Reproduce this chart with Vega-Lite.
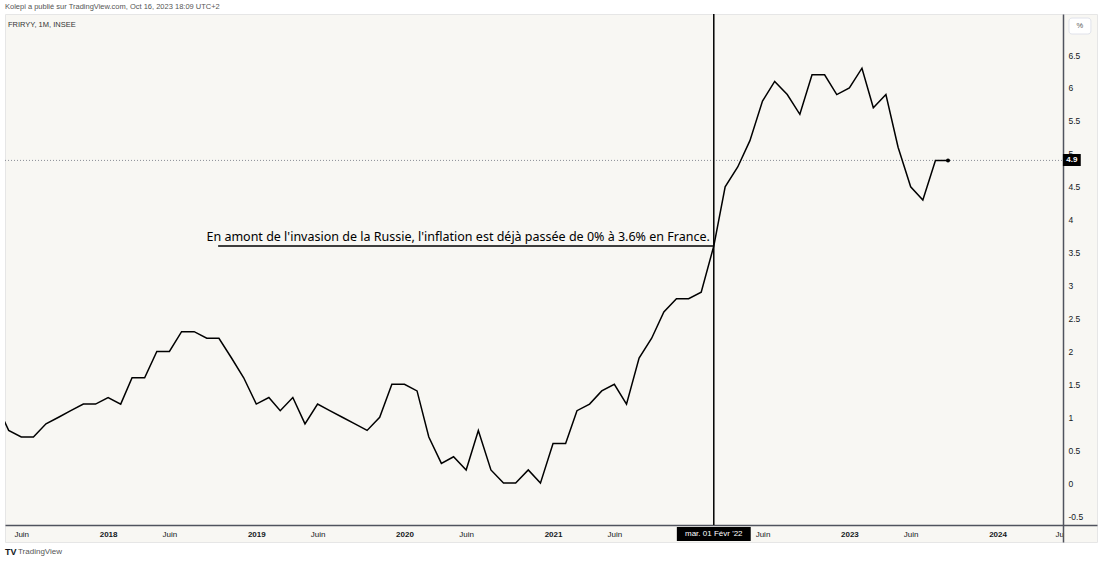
{
  "$schema": "https://vega.github.io/schema/vega-lite/v6.json",
  "width": 1092,
  "height": 528,
  "autosize": "none",
  "padding": {"left": 5, "top": 14, "right": 3, "bottom": 22},
  "background": "#ffffff",
  "layer": [
    {
      "data": {"values": [{}]},
      "mark": {"type": "rule", "color": "#8a8d96", "strokeWidth": 1, "strokeDash": [1, 2]},
      "encoding": {
        "x": {"datum": {"year": 2017, "month": 4, "date": 22, "utc": true}, "type": "temporal", "title": null},
        "x2": {"datum": {"year": 2024, "month": 6, "date": 10, "utc": true}},
        "y": {"datum": 4.9, "type": "quantitative", "title": null}
      }
    },
    {
      "data": {
        "values": [
          {"date": "2017-04-01", "cpi": 1.2}, {"date": "2017-05-01", "cpi": 0.8}, {"date": "2017-06-01", "cpi": 0.7},
          {"date": "2017-07-01", "cpi": 0.7}, {"date": "2017-08-01", "cpi": 0.9}, {"date": "2017-09-01", "cpi": 1.0},
          {"date": "2017-10-01", "cpi": 1.1}, {"date": "2017-11-01", "cpi": 1.2}, {"date": "2017-12-01", "cpi": 1.2},
          {"date": "2018-01-01", "cpi": 1.3}, {"date": "2018-02-01", "cpi": 1.2}, {"date": "2018-03-01", "cpi": 1.6},
          {"date": "2018-04-01", "cpi": 1.6}, {"date": "2018-05-01", "cpi": 2.0}, {"date": "2018-06-01", "cpi": 2.0},
          {"date": "2018-07-01", "cpi": 2.3}, {"date": "2018-08-01", "cpi": 2.3}, {"date": "2018-09-01", "cpi": 2.2},
          {"date": "2018-10-01", "cpi": 2.2}, {"date": "2018-11-01", "cpi": 1.9}, {"date": "2018-12-01", "cpi": 1.6},
          {"date": "2019-01-01", "cpi": 1.2}, {"date": "2019-02-01", "cpi": 1.3}, {"date": "2019-03-01", "cpi": 1.1},
          {"date": "2019-04-01", "cpi": 1.3}, {"date": "2019-05-01", "cpi": 0.9}, {"date": "2019-06-01", "cpi": 1.2},
          {"date": "2019-07-01", "cpi": 1.1}, {"date": "2019-08-01", "cpi": 1.0}, {"date": "2019-09-01", "cpi": 0.9},
          {"date": "2019-10-01", "cpi": 0.8}, {"date": "2019-11-01", "cpi": 1.0}, {"date": "2019-12-01", "cpi": 1.5},
          {"date": "2020-01-01", "cpi": 1.5}, {"date": "2020-02-01", "cpi": 1.4}, {"date": "2020-03-01", "cpi": 0.7},
          {"date": "2020-04-01", "cpi": 0.3}, {"date": "2020-05-01", "cpi": 0.4}, {"date": "2020-06-01", "cpi": 0.2},
          {"date": "2020-07-01", "cpi": 0.8}, {"date": "2020-08-01", "cpi": 0.2}, {"date": "2020-09-01", "cpi": 0.0},
          {"date": "2020-10-01", "cpi": 0.0}, {"date": "2020-11-01", "cpi": 0.2}, {"date": "2020-12-01", "cpi": 0.0},
          {"date": "2021-01-01", "cpi": 0.6}, {"date": "2021-02-01", "cpi": 0.6}, {"date": "2021-03-01", "cpi": 1.1},
          {"date": "2021-04-01", "cpi": 1.2}, {"date": "2021-05-01", "cpi": 1.4}, {"date": "2021-06-01", "cpi": 1.5},
          {"date": "2021-07-01", "cpi": 1.2}, {"date": "2021-08-01", "cpi": 1.9}, {"date": "2021-09-01", "cpi": 2.2},
          {"date": "2021-10-01", "cpi": 2.6}, {"date": "2021-11-01", "cpi": 2.8}, {"date": "2021-12-01", "cpi": 2.8},
          {"date": "2022-01-01", "cpi": 2.9}, {"date": "2022-02-01", "cpi": 3.6}, {"date": "2022-03-01", "cpi": 4.5},
          {"date": "2022-04-01", "cpi": 4.8}, {"date": "2022-05-01", "cpi": 5.2}, {"date": "2022-06-01", "cpi": 5.8},
          {"date": "2022-07-01", "cpi": 6.1}, {"date": "2022-08-01", "cpi": 5.9}, {"date": "2022-09-01", "cpi": 5.6},
          {"date": "2022-10-01", "cpi": 6.2}, {"date": "2022-11-01", "cpi": 6.2}, {"date": "2022-12-01", "cpi": 5.9},
          {"date": "2023-01-01", "cpi": 6.0}, {"date": "2023-02-01", "cpi": 6.3}, {"date": "2023-03-01", "cpi": 5.7},
          {"date": "2023-04-01", "cpi": 5.9}, {"date": "2023-05-01", "cpi": 5.1}, {"date": "2023-06-01", "cpi": 4.5},
          {"date": "2023-07-01", "cpi": 4.3}, {"date": "2023-08-01", "cpi": 4.9}, {"date": "2023-09-01", "cpi": 4.9}
        ]
      },
      "mark": {"type": "line", "color": "#000000", "strokeWidth": 1.5, "clip": true},
      "encoding": {
        "x": {
          "field": "date",
          "type": "temporal",
          "scale": {
            "domain": [
              {"year": 2017, "month": 4, "date": 22, "utc": true},
              {"year": 2024, "month": 9, "date": 2, "utc": true}
            ],
            "nice": false
          },
          "axis": {
            "title": null,
            "labelOverlap": false,
            "tickCount": 30,
            "values": [
              {"year": 2017, "month": 6, "date": 1, "utc": true},
              {"year": 2018, "month": 1, "date": 1, "utc": true},
              {"year": 2018, "month": 6, "date": 1, "utc": true},
              {"year": 2019, "month": 1, "date": 1, "utc": true},
              {"year": 2019, "month": 6, "date": 1, "utc": true},
              {"year": 2020, "month": 1, "date": 1, "utc": true},
              {"year": 2020, "month": 6, "date": 1, "utc": true},
              {"year": 2021, "month": 1, "date": 1, "utc": true},
              {"year": 2021, "month": 6, "date": 1, "utc": true},
              {"year": 2022, "month": 6, "date": 1, "utc": true},
              {"year": 2023, "month": 1, "date": 1, "utc": true},
              {"year": 2023, "month": 6, "date": 1, "utc": true},
              {"year": 2024, "month": 1, "date": 1, "utc": true},
              {"year": 2024, "month": 6, "date": 1, "utc": true}
            ],
            "labelExpr": "utcmonth(datum.value) == 0 ? utcFormat(datum.value, '%Y') : (utcyear(datum.value) == 2024 ? 'Ju' : 'Juin')",
            "labelFontWeight": {"condition": {"test": "utcmonth(datum.value) == 0", "value": "bold"}, "value": "normal"}
          }
        },
        "y": {
          "field": "cpi",
          "type": "quantitative",
          "scale": {"domain": [-0.894, 7.123], "nice": false, "zero": false},
          "axis": {
            "title": null,
            "labelOverlap": false,
            "tickCount": 30,
            "values": [-0.5, 0, 0.5, 1, 1.5, 2, 2.5, 3, 3.5, 4, 4.5, 5, 5.5, 6, 6.5],
            "labelExpr": "'' + datum.value"
          }
        }
      }
    },
    {
      "data": {"values": [{}]},
      "mark": {"type": "rule", "color": "#000000", "strokeWidth": 1.5},
      "encoding": {
        "x": {"datum": {"year": 2018, "month": 9, "date": 29, "utc": true}, "type": "temporal", "title": null},
        "x2": {"datum": {"year": 2022, "month": 2, "date": 1, "utc": true}},
        "y": {"datum": 3.6, "type": "quantitative", "title": null}
      }
    },
    {
      "data": {"values": [{}]},
      "mark": {"type": "rule", "color": "#000000", "strokeWidth": 1.5},
      "encoding": {
        "x": {"datum": {"year": 2022, "month": 2, "date": 1, "utc": true}, "type": "temporal", "title": null},
        "y": {"datum": 7.123, "type": "quantitative", "title": null},
        "y2": {"datum": -0.636}
      }
    },
    {
      "data": {"values": [{}]},
      "mark": {
        "type": "text",
        "text": "En amont de l'invasion de la Russie, l'inflation est déjà passée de 0% à 3.6% en France.",
        "align": "right",
        "baseline": "alphabetic",
        "dx": -4,
        "dy": -5,
        "font": "Noto Sans",
        "fontSize": 12.5,
        "color": "#000000"
      },
      "encoding": {
        "x": {"datum": {"year": 2022, "month": 2, "date": 1, "utc": true}, "type": "temporal", "title": null},
        "y": {"datum": 3.6, "type": "quantitative", "title": null}
      }
    },
    {
      "data": {"values": [{}]},
      "mark": {"type": "point", "filled": true, "color": "#000000", "size": 16, "opacity": 1},
      "encoding": {
        "x": {"datum": {"year": 2023, "month": 9, "date": 1, "utc": true}, "type": "temporal", "title": null},
        "y": {"datum": 4.9, "type": "quantitative", "title": null}
      }
    },
    {
      "data": {"values": [{}]},
      "mark": {"type": "rect", "color": "#000000"},
      "encoding": {
        "x": {"datum": {"year": 2021, "month": 11, "date": 2, "utc": true}, "type": "temporal", "title": null},
        "x2": {"datum": {"year": 2022, "month": 5, "date": 3, "utc": true}},
        "y": {"datum": -0.667, "type": "quantitative", "title": null},
        "y2": {"datum": -0.879}
      }
    },
    {
      "data": {"values": [{}]},
      "mark": {"type": "text", "text": "mar. 01 Févr '22", "color": "#ffffff", "font": "Liberation Sans", "fontSize": 8, "baseline": "middle"},
      "encoding": {
        "x": {"datum": {"year": 2022, "month": 2, "date": 1, "utc": true}, "type": "temporal", "title": null},
        "y": {"datum": -0.773, "type": "quantitative", "title": null}
      }
    },
    {
      "data": {"values": [{}]},
      "mark": {"type": "rect", "color": "#000000"},
      "encoding": {
        "x": {"datum": {"year": 2024, "month": 6, "date": 10, "utc": true}, "type": "temporal", "title": null},
        "x2": {"datum": {"year": 2024, "month": 7, "date": 24, "utc": true}},
        "y": {"datum": 4.997, "type": "quantitative", "title": null},
        "y2": {"datum": 4.815}
      }
    },
    {
      "data": {"values": [{}]},
      "mark": {"type": "text", "text": "4.9", "color": "#ffffff", "font": "Liberation Sans", "fontSize": 8, "fontWeight": "bold", "baseline": "middle"},
      "encoding": {
        "x": {"datum": {"year": 2024, "month": 7, "date": 2, "utc": true}, "type": "temporal", "title": null},
        "y": {"datum": 4.906, "type": "quantitative", "title": null}
      }
    },
    {
      "data": {"values": [{}]},
      "mark": {"type": "rect", "fill": "#ffffff", "stroke": "#e0e3eb", "strokeWidth": 1, "cornerRadius": 3},
      "encoding": {
        "x": {"datum": {"year": 2024, "month": 6, "date": 25, "utc": true}, "type": "temporal", "title": null},
        "x2": {"datum": {"year": 2024, "month": 8, "date": 18, "utc": true}},
        "y": {"datum": 7.062, "type": "quantitative", "title": null},
        "y2": {"datum": 6.819}
      }
    },
    {
      "data": {"values": [{}]},
      "mark": {"type": "text", "text": "%", "color": "#555555", "font": "Liberation Sans", "fontSize": 7.5, "baseline": "middle"},
      "encoding": {
        "x": {"datum": {"year": 2024, "month": 7, "date": 22, "utc": true}, "type": "temporal", "title": null},
        "y": {"datum": 6.94, "type": "quantitative", "title": null}
      }
    },
    {
      "data": {"values": [{}]},
      "mark": {"type": "text", "text": "FRIRYY, 1M, INSEE", "align": "left", "baseline": "middle", "dx": 3, "color": "#333333", "font": "Liberation Sans", "fontSize": 7.5},
      "encoding": {
        "x": {"datum": {"year": 2017, "month": 4, "date": 22, "utc": true}, "type": "temporal", "title": null},
        "y": {"datum": 6.956, "type": "quantitative", "title": null}
      }
    },
    {
      "data": {"values": [{}]},
      "mark": {"type": "text", "text": "Kolepi a publié sur TradingView.com, Oct 16, 2023 18:09 UTC+2", "align": "left", "baseline": "middle", "dx": 0, "color": "#555555", "font": "Liberation Sans", "fontSize": 7.5},
      "encoding": {
        "x": {"datum": {"year": 2017, "month": 4, "date": 22, "utc": true}, "type": "temporal", "title": null},
        "y": {"datum": 7.229, "type": "quantitative", "title": null}
      }
    },
    {
      "data": {"values": [{}]},
      "mark": {"type": "text", "text": "TV", "align": "left", "baseline": "middle", "dx": 0, "color": "#131722", "font": "Liberation Sans", "fontSize": 9, "fontWeight": "bold"},
      "encoding": {
        "x": {"datum": {"year": 2017, "month": 4, "date": 22, "utc": true}, "type": "temporal", "title": null},
        "y": {"datum": -1.048, "type": "quantitative", "title": null}
      }
    },
    {
      "data": {"values": [{}]},
      "mark": {"type": "text", "text": "TradingView", "align": "left", "baseline": "middle", "dx": 13, "color": "#555555", "font": "Liberation Sans", "fontSize": 8},
      "encoding": {
        "x": {"datum": {"year": 2017, "month": 4, "date": 22, "utc": true}, "type": "temporal", "title": null},
        "y": {"datum": -1.048, "type": "quantitative", "title": null}
      }
    }
  ],
  "config": {
    "view": {"fill": "#f8f7f3", "stroke": "#e6e6e6", "strokeWidth": 1},
    "font": "Liberation Sans",
    "axisX": {
      "orient": "bottom",
      "offset": -17,
      "grid": false,
      "ticks": false,
      "tickSize": 0,
      "domainColor": "#50535e",
      "domainWidth": 1.5,
      "labelFont": "Liberation Sans",
      "labelFontSize": 8,
      "labelColor": "#131722",
      "labelPadding": 5,
      "labelBaseline": "top",
      "labelFlush": false,
      "labelOverlap": false
    },
    "axisY": {
      "orient": "right",
      "offset": -34,
      "grid": false,
      "ticks": false,
      "tickSize": 0,
      "domainColor": "#50535e",
      "domainWidth": 1.5,
      "labelFont": "Liberation Sans",
      "labelFontSize": 8.5,
      "labelColor": "#131722",
      "labelPadding": 5,
      "labelAlign": "left",
      "labelBaseline": "middle",
      "labelFlush": false,
      "labelOverlap": false
    }
  }
}
